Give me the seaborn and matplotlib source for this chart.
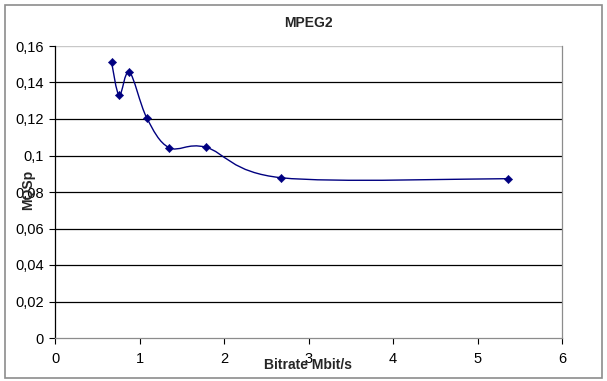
import numpy as np
import matplotlib
matplotlib.use("Agg")
import matplotlib.pyplot as plt
from matplotlib.path import Path
from matplotlib.patches import PathPatch, Rectangle
from matplotlib.ticker import FuncFormatter
import seaborn as sns
import pandas as pd

# Data
bitrate = [0.67, 0.76, 0.88, 1.085, 1.35, 1.787, 2.68, 5.36]
mqsp = [0.151, 0.133, 0.1458, 0.1207, 0.1043, 0.1045, 0.0878, 0.0873]
x_ticks = [0, 1, 2, 3, 4, 5, 6]
y_ticks = [0, 0.02, 0.04, 0.06, 0.08, 0.10, 0.12, 0.14, 0.16]

sns.set_style("white")
plt.rcParams['font.family'] = ['Liberation Sans', 'DejaVu Sans']

df = pd.DataFrame({"Bitrate": bitrate, "MQSp": mqsp})

fig = plt.figure(figsize=(6.07, 3.81), dpi=100)
ax = fig.add_axes([55 / 607, 1 - 338 / 381, (562 - 55) / 607, (338 - 46) / 381])

# outer chart border, Excel style
fig.add_artist(Rectangle((5 / 607, 3 / 381), 597 / 607, 373 / 381, transform=fig.transFigure,
                         fill=False, edgecolor="#8c8c8c", linewidth=1.2))

ax.set_xlim(0, 6)
ax.set_ylim(0, 0.16)

# smoothed line (Excel-like bezier through the points)
def smooth_path(xs, ys, t=1 / 6):
    pts = np.column_stack([xs, ys])
    verts = [pts[0]]
    codes = [Path.MOVETO]
    n = len(pts)
    for i in range(n - 1):
        p0 = pts[i - 1] if i > 0 else pts[i]
        p1 = pts[i]
        p2 = pts[i + 1]
        p3 = pts[i + 2] if i + 2 < n else pts[i + 1]
        c1 = p1 + (p2 - p0) * t
        c2 = p2 - (p3 - p1) * t
        verts += [c1, c2, p2]
        codes += [Path.CURVE4] * 3
    return Path(verts, codes)

# scale to pixel aspect so the curve shape matches
sx, sy = 84.5, 1825.0
path = smooth_path(np.array(bitrate) * sx, np.array(mqsp) * sy)
path = Path(path.vertices / [sx, sy], path.codes)
ax.add_patch(PathPatch(path, facecolor="none", edgecolor="#000080", linewidth=1.0, zorder=3))

sns.scatterplot(data=df, x="Bitrate", y="MQSp", marker="D", s=18, color="#000080",
                edgecolor="#000080", ax=ax, zorder=4, legend=False)

ax.set_xticks(x_ticks)
ax.set_yticks(y_ticks)
ax.yaxis.set_major_formatter(FuncFormatter(lambda v, p: ("%g" % round(v, 2)).replace(".", ",")))
ax.tick_params(axis="both", labelsize=10.5, colors="#000000", length=4, width=0.8,
               direction="out", bottom=True, left=True, pad=6)
ax.tick_params(axis="y", pad=4)

for v in y_ticks[1:-1]:
    ax.axhline(v, color="#000000", linewidth=0.9, zorder=1)
ax.axhline(0.16, color="#c8c8c8", linewidth=1.0, zorder=1)

for s in ["top", "right", "bottom"]:
    ax.spines[s].set_color("#8c8c8c")
ax.spines["top"].set_visible(False)
ax.spines["left"].set_color("#000000")
for s in ax.spines.values():
    s.set_linewidth(0.9)

ax.set_xlabel("")
ax.set_ylabel("")
fig.text(308 / 607, 1 - 23 / 381, "MPEG2", ha="center", va="center", fontsize=10, fontweight="bold")
fig.text(308 / 607, 1 - 365 / 381, "Bitrate Mbit/s", ha="center", va="center", fontsize=10,
         fontweight="bold", zorder=5)
fig.text(28 / 607, 1 - 190 / 381, "MQSp", ha="center", va="center", rotation=90, fontsize=10,
         fontweight="bold", zorder=5)

fig.savefig("out.png", dpi=100)
